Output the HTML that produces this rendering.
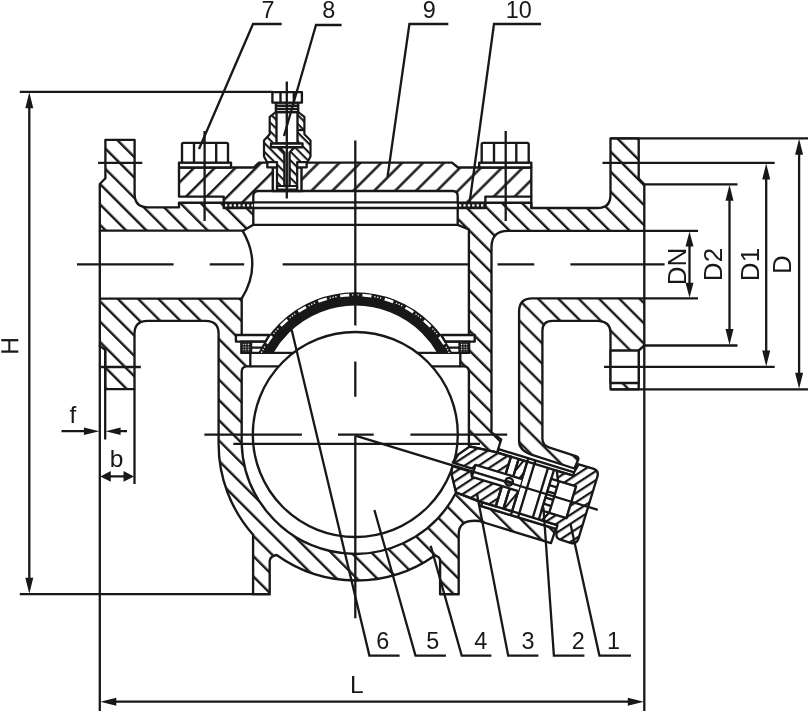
<!DOCTYPE html>
<html><head><meta charset="utf-8"><title>Valve section</title>
<style>
html,body{margin:0;padding:0;background:#fff;overflow:hidden}
svg{display:block}
text{font-family:"Liberation Sans",sans-serif;fill:#181818}
.o{fill:none;stroke:#181818;stroke-width:2.35;stroke-linejoin:round;stroke-linecap:butt}
.w{fill:#fff;stroke:#181818;stroke-width:2.35;stroke-linejoin:round}
.hb2{fill:url(#hb2);stroke:#181818;stroke-width:2.35;stroke-linejoin:round}
.hb3{fill:url(#hb3);stroke:#181818;stroke-width:2.35;stroke-linejoin:round}
.hb4{fill:url(#hb4);stroke:#181818;stroke-width:2.35;stroke-linejoin:round}
.hb{fill:url(#hb);stroke:#181818;stroke-width:2.35;stroke-linejoin:round}
.hc2{fill:url(#hc2);stroke:#181818;stroke-width:2.35;stroke-linejoin:round}
.hc{fill:url(#hc);stroke:#181818;stroke-width:2.35;stroke-linejoin:round}
.hv{fill:url(#hv);stroke:#181818;stroke-width:2.2;stroke-linejoin:round}
.hs{fill:url(#hs);stroke:#181818;stroke-width:2.2;stroke-linejoin:round}
.hn{fill:url(#hn);stroke:#181818;stroke-width:2.35;stroke-linejoin:round}
.t{fill:none;stroke:#181818;stroke-width:2.3}
.a{fill:#181818;stroke:none}
.n{font-size:23.4px}
.l{font-size:24.5px}
.d{font-size:26px}
</style></head><body>
<svg width="808" height="711" viewBox="0 0 808 711">
<defs>
<pattern id="hb" width="40" height="14.425" patternUnits="userSpaceOnUse" patternTransform="rotate(45)"><rect x="0" y="0" width="40" height="14.425" fill="#fff"/><line x1="-1" y1="1.697" x2="41" y2="1.697" stroke="#181818" stroke-width="2.45"/><line x1="-1" y1="-12.728" x2="41" y2="-12.728" stroke="#181818" stroke-width="2.45"/><line x1="-1" y1="16.122" x2="41" y2="16.122" stroke="#181818" stroke-width="2.45"/></pattern>
<pattern id="hb2" width="40" height="14.142" patternUnits="userSpaceOnUse" patternTransform="rotate(45)"><rect x="0" y="0" width="40" height="14.142" fill="#fff"/><line x1="-1" y1="0.707" x2="41" y2="0.707" stroke="#181818" stroke-width="2.45"/><line x1="-1" y1="-13.435" x2="41" y2="-13.435" stroke="#181818" stroke-width="2.45"/><line x1="-1" y1="14.849" x2="41" y2="14.849" stroke="#181818" stroke-width="2.45"/></pattern>
<pattern id="hb3" width="40" height="14.354" patternUnits="userSpaceOnUse" patternTransform="rotate(45)"><rect x="0" y="0" width="40" height="14.354" fill="#fff"/><line x1="-1" y1="13.152" x2="41" y2="13.152" stroke="#181818" stroke-width="2.45"/><line x1="-1" y1="-1.202" x2="41" y2="-1.202" stroke="#181818" stroke-width="2.45"/><line x1="-1" y1="27.506" x2="41" y2="27.506" stroke="#181818" stroke-width="2.45"/></pattern>
<pattern id="hb4" width="40" height="14.347" patternUnits="userSpaceOnUse" patternTransform="rotate(45)"><rect x="0" y="0" width="40" height="14.347" fill="#fff"/><line x1="-1" y1="2.828" x2="41" y2="2.828" stroke="#181818" stroke-width="2.45"/><line x1="-1" y1="-11.519" x2="41" y2="-11.519" stroke="#181818" stroke-width="2.45"/><line x1="-1" y1="17.176" x2="41" y2="17.176" stroke="#181818" stroke-width="2.45"/></pattern>
<pattern id="hc" width="40" height="14.779" patternUnits="userSpaceOnUse" patternTransform="rotate(-45)"><rect x="0" y="0" width="40" height="14.779" fill="#fff"/><line x1="-1" y1="0.495" x2="41" y2="0.495" stroke="#181818" stroke-width="2.45"/><line x1="-1" y1="-14.284" x2="41" y2="-14.284" stroke="#181818" stroke-width="2.45"/><line x1="-1" y1="15.274" x2="41" y2="15.274" stroke="#181818" stroke-width="2.45"/></pattern>
<pattern id="hc2" width="40" height="14.637" patternUnits="userSpaceOnUse" patternTransform="rotate(-45)"><rect x="0" y="0" width="40" height="14.637" fill="#fff"/><line x1="-1" y1="7.142" x2="41" y2="7.142" stroke="#181818" stroke-width="2.45"/><line x1="-1" y1="-7.495" x2="41" y2="-7.495" stroke="#181818" stroke-width="2.45"/><line x1="-1" y1="21.779" x2="41" y2="21.779" stroke="#181818" stroke-width="2.45"/></pattern>
<pattern id="hn" width="30" height="7.6" patternUnits="userSpaceOnUse" patternTransform="rotate(-50)"><rect x="0" y="0" width="30" height="7.6" fill="#fff"/><line x1="-1" y1="1" x2="31" y2="1" stroke="#181818" stroke-width="2.45"/></pattern>
<pattern id="hv" width="30" height="6.2" patternUnits="userSpaceOnUse" patternTransform="rotate(45)"><rect x="0" y="0" width="30" height="6.2" fill="#fff"/><line x1="-1" y1="1" x2="31" y2="1" stroke="#181818" stroke-width="2.1"/></pattern>
<pattern id="hg" width="2.6" height="2.6" patternUnits="userSpaceOnUse"><rect x="0" y="0" width="2.6" height="2.6" fill="#181818"/><rect x="0.7" y="0.7" width="1.2" height="1.2" fill="#fff"/></pattern>
<pattern id="hs" width="30" height="8" patternUnits="userSpaceOnUse" patternTransform="rotate(-67)"><rect x="0" y="0" width="30" height="8" fill="#fff"/><line x1="-1" y1="1" x2="31" y2="1" stroke="#181818" stroke-width="2.1"/></pattern>
<clipPath id="domeclip"><rect x="240" y="280" width="230" height="72.9"/></clipPath>
</defs>
<rect x="0" y="0" width="808" height="711" fill="#fff"/>

<!-- BODY-START -->
<g id="body">
<!-- upper-left body -->
<path class="hb" d="M105.4,139.8H134.6V194Q134.6,207.3 148,207.3H179V202.7H223.7V208H253.3V224.8L243.5,230.6H99.8V184L105.4,178.2Z"/>
<!-- upper-right body + inner wall -->
<path class="hb2" d="M457.7,208H485.4V202.7H531.3V208H597.5Q610.5,208 610.5,195V138.3H638.7V178.5L644.3,184.3V230.9H508Q491.5,230.9 491.5,247V432.4L501.2,439.4L497.1,452.5L469.9,446.3L468.9,446V372Q468.9,366.4 463.6,366.4H460.3V352.9H468.9V229.5L457.7,224.8Z"/>
<!-- lower-left body + bowl + legs + housing -->
<path class="hb3" d="M99.8,298.6H241.7V352.9H250.3V366.4H247Q241.7,366.4 241.7,372V443.9A113.6,113.6 0 0 0 456.1,492.5L482.2,502.7L481.2,506.1L555.8,528.9L551,543.1L478.8,521Q458.7,519 458.7,534V594.2H440.1V561Q440.1,556.5 434.5,555.7A136.7,136.7 0 0 1 276.6,555Q269.7,556.5 269.7,561V594.2H253.1V534.7A136.7,136.7 0 0 1 218.6,443.9V333.8Q218.6,320.8 205.6,320.8H147.5Q134.5,320.8 134.5,333.8V389.1H105.2V349.8L99.8,345.9Z"/>
<!-- lower-right: flange + outlet wall -->
<path class="hb4" d="M644.3,298.4V345.5L638.7,350.5V389.3H610.5V332.5Q610.5,321.8 598.5,320.8H552.6Q542.4,320.8 542.4,330.8V438.8Q542.4,445.5 549.6,447.7L575.8,456.1Q579,457.2 578.3,459.5L574.4,468.5L532.8,455.1Q519.1,451 519.1,441.3V311.6Q519.1,298.4 532.1,298.4Z"/>
<path class="w" d="M610.5,350.5H638.7V383H610.5Z"/>
<path class="o" d="M99.8,230.6V298.6M644.3,230.9V298.4"/>
</g>
<g id="cover">
<!-- cover -->
<path class="hc2" d="M179,167.5H253.8L259,162.6H287V191H258.3Q253.3,191 253.3,196V202.7H223.7V196.6H179Z"/>
<path class="hc" d="M287,162.6H452L458,167.5H531.3V196.6H485.4V202.7H457.7V196Q457.7,191 452.7,191H287Z"/>
<path class="o" d="M531.3,196.6V208"/>
<!-- gaskets -->
<rect x="223.7" y="202.7" width="29.6" height="5.3" fill="#181818" stroke="#181818" stroke-width="1.6"/><path d="M225,205.4H253" stroke="#fff" stroke-width="2.3" stroke-dasharray="2.3 2.1" fill="none"/>
<rect x="457.7" y="202.7" width="27.7" height="5.3" fill="#181818" stroke="#181818" stroke-width="1.6"/><path d="M459,205.4H485" stroke="#fff" stroke-width="2.3" stroke-dasharray="2.3 2.1" fill="none"/>
<!-- chamber lines -->
<path class="o" d="M253.3,202.3H457.7M253.3,208H457.7M253.3,224.8H457.7"/>
<!-- inlet bore end arc -->
<path class="o" d="M242.5,230.6Q262.5,264.5 241.7,298.6"/>
<!-- left bolt -->
<path class="w" d="M179,162.6H231V167.5H179Z"/>
<path class="w" d="M182,162.6V144.3Q182,142.8 183.5,142.8H226.5Q228,142.8 228,144.3V162.6Z"/>
<path class="o" d="M194,142.8V162.6M216.2,142.8V162.6"/>
<!-- right bolt -->
<path class="w" d="M479.2,162.6H531.3V167.5H479.2Z"/>
<path class="w" d="M481.7,162.6V144.3Q481.7,142.8 483.2,142.8H527.2Q528.7,142.8 528.7,144.3V162.6Z"/>
<path class="o" d="M494,142.8V162.6M516.3,142.8V162.6"/>
</g>
<g id="valve8">
<!-- threaded hole in cover -->
<rect x="272.8" y="167.3" width="28.7" height="23.7" fill="#fff" stroke="#181818" stroke-width="2.45"/>
<!-- washer -->
<rect class="w" x="267.3" y="162" width="39.4" height="5.3"/>
<!-- body -->
<path class="hv" d="M275.9,112L269.7,116.8V134.2L264,140.4V156.4L267,162H277V186H297.2V162H307.5L310.5,156.4V140.4L304.4,134.2V116.8L298.2,112Z"/>
<path class="o" d="M277,186V189.6H297.2V186"/>
<rect class="w" x="276.5" y="112" width="21" height="31.5"/>
<rect class="w" x="271" y="143.5" width="31.5" height="3.7"/>
<path class="w" d="M279.5,147.2L284.4,152.5V186H289.6V152.5L294.5,147.2Z"/>
<!-- neck and head -->
<rect class="w" x="275.9" y="102.6" width="22.3" height="9.4"/>
<path class="o" d="M275.9,105.7H298.2M275.9,108.8H298.2"/>
<rect class="w" x="272.4" y="92.1" width="29.5" height="10.5"/>
<path class="o" d="M280.5,92.1V102.6M293.8,92.1V102.6"/>
<path class="o" d="M304.4,130H297.5"/>
</g>
<g id="float">
<!-- ball -->
<circle class="o" cx="355.3" cy="434.5" r="102.5" fill="#fff"/>
<!-- ledge lines -->
<path class="o" d="M241.7,352.9H293.9M250.3,366.4H279M468.9,352.9H416.7M460.3,366.4H431.6"/>
<!-- dome screen: center (355.3,400) -->
<path d="M269.4,335.4A107.5,107.5 0 0 1 441.2,335.4L437.8,352.9A95,95 0 0 0 272.8,352.9Z" fill="#fff" stroke="none"/>
<g clip-path="url(#domeclip)">
<circle cx="355.3" cy="400" r="101.1" fill="none" stroke="#181818" stroke-width="13.4"/>
<circle cx="355.3" cy="400" r="105.1" fill="none" stroke="#fff" stroke-width="2.7" stroke-dasharray="9 13.5" stroke-dashoffset="15.45"/>
<circle cx="355.3" cy="400" r="105.1" fill="none" stroke="#fff" stroke-width="1.3" stroke-dasharray="0 11.8 1.3 1.6 1.3 1.6 1.3 3.6" stroke-dashoffset="15.45"/>
</g>
<!-- rings -->
<path class="w" d="M235.9,335H269.3L265.5,341.6H235.9Z"/>
<path class="w" d="M474.7,335H441.3L445.1,341.6H474.7Z"/>
<rect x="241.4" y="341.6" width="9.8" height="11.3" fill="url(#hg)" stroke="#181818" stroke-width="2.1"/>
<rect x="459.4" y="341.6" width="9.8" height="11.3" fill="url(#hg)" stroke="#181818" stroke-width="2.1"/>
<path class="o" d="M251.2,341.6H265.5M251.2,347.6H262M459.4,341.6H445.1M459.4,347.6H448.6"/>
</g>
<g id="nozzle" transform="translate(355.3,435.7) rotate(17)">
<!-- sleeve + white base -->
<path class="w" d="M141,-29H226V30.5H141V27L113,24.8L103,8L101,-3L104,-12L112.6,-23L141,-25.4Z"/>
<!-- seat -->
<path class="hn" d="M112.6,-23L141,-25.4H155V26.5H141L113,24.8L103,8Q100.5,-2 104,-12Z"/>
<!-- bushing with steep hatch -->
<path class="hs" d="M163,-25.4H172V26.5H163Z"/>
<!-- sleeve inner lines -->
<path class="o" d="M141,-25.4H220M141,26.5H220"/>
<!-- perpendicular lines -->
<path class="o" d="M155,-25.4V26.5M163,-25.4V26.5M172,-29V30.5M179.5,-29V30.5M193.7,-25.4V26.5M200,-25.4V26.5"/>
<!-- bore -->
<path d="M100,-2.8H123V-7.3H172V5.3H123V0.8H100Z" fill="#fff" stroke="none"/>
<path class="o" d="M100.5,-2.8H121.5L123.5,-7.3H172M100.8,0.8H121.5L123.5,5.3H172M123.5,-7.3V5.3"/>
<circle class="o" cx="160.5" cy="-1" r="3.8" fill="#fff"/>
<path class="o" d="M157.6,-1H163.4"/>
<!-- plate stack -->
<path class="w" d="M200,-16H208V17H200Z"/>
<path class="o" d="M200,-9.5H208M200,-3H208M200,3.5H208M200,10H208"/>
<!-- cap -->
<path class="hn" d="M222,-38H237Q243.5,-38 243.5,-31.5V33Q243.5,39.5 237,39.5H226.5Q222,39.5 221,35L219.5,30.5V26.5H203L208,17H226V-16H207L203,-25.4H220V-29L222,-38Z"/>
</g>
<g id="center">
<path class="t" d="M204.6,131V221M505.7,131V221M286.8,81.6V198.5"/>
<path class="t" d="M355.3,140.5V325.5M355.3,361.4V396.8M355.3,435.7V618.3"/>
<path class="t" d="M77,264.4H173.6M209.7,264.4H244.2M282.6,264.4H468M497.5,264.4H534.3M570.4,264.4H664.6"/>
<path class="t" d="M204.4,434.6H301.9M338,434.6H373.7M410.4,434.6H507.2"/>
<path class="t" d="M233.3,443.9H480"/>
<path class="t" d="M355.3,435.7L597.8,509.8"/>
<path class="t" d="M98.1,162.8H142.3M101,367H140.8"/>
</g>
<!-- BODY-END -->

<!-- DIMS-START -->
<g id="dims">
<!-- H -->
<path class="t" d="M19.8,91.8H272.5M19.8,594.2H253.1M29.3,100V586"/>
<path class="a" d="M29.3,92.3l-4,16h8zM29.3,593.7l-4,-16h8z"/>
<!-- L -->
<path class="t" d="M108,701.7H636M99.8,345V711M644.3,345V711"/>
<path class="a" d="M100.3,701.7l16,-4v8zM643.8,701.7l-16,-4v8z"/>
<!-- f, b -->
<path class="t" d="M61.5,431.2H92M112,431.2H127M105.2,350V439.5M134.5,389V484M106,476.4H128"/>
<path class="a" d="M99.4,431.2l-15.5,-3.8v7.6zM105.6,431.2l15,-3.8v7.6zM100.3,476.4l10.5,-5.4v10.8zM134,476.4l-10.5,-5.4v10.8z"/>
<!-- D dims -->
<path class="t" d="M610.5,138.3H808M610.5,389.3H808M602.5,162.9H774.7M604,366.9H774.7M644.3,184.3H737.5M644.3,345.5H737.5M644.3,230.9H698M644.3,298.3H698"/>
<path class="t" d="M799.1,146V382M766.2,170V360M729.5,192V338M689.5,238V291"/>
<path class="a" d="M799.1,138.8l-4,16h8zM799.1,388.8l-4,-16h8zM766.2,163.4l-4,16h8zM766.2,366.4l-4,-16h8zM729.5,184.8l-4,16h8zM729.5,345l-4,-16h8zM689.5,231.4l-4,15h8zM689.5,297.8l-4,-15h8z"/>
</g>
<!-- DIMS-END -->

<!-- LABELS-START -->
<g id="labels" style="opacity:0.999">
<text class="l" transform="translate(18.3,346) rotate(-90)" text-anchor="middle">H</text>
<text class="l" x="356.7" y="692.9" text-anchor="middle">L</text>
<text class="l" x="73" y="423.2" text-anchor="middle">f</text>
<text class="l" x="116.6" y="466.8" text-anchor="middle">b</text>
<text class="d" transform="translate(685.8,266.5) rotate(-90)" text-anchor="middle">DN</text>
<text class="d" transform="translate(722.3,264.5) rotate(-90)" text-anchor="middle">D2</text>
<text class="d" transform="translate(758.8,264.5) rotate(-90)" text-anchor="middle">D1</text>
<text class="d" transform="translate(791.3,264.5) rotate(-90)" text-anchor="middle">D</text>
<text class="n" x="268" y="17.5" text-anchor="middle">7</text>
<text class="n" x="328.7" y="17.5" text-anchor="middle">8</text>
<text class="n" x="429.2" y="17.5" text-anchor="middle">9</text>
<text class="n" x="518.8" y="17.5" text-anchor="middle">10</text>
<text class="n" x="382.8" y="648.7" text-anchor="middle">6</text>
<text class="n" x="432.7" y="648.7" text-anchor="middle">5</text>
<text class="n" x="480.7" y="648.7" text-anchor="middle">4</text>
<text class="n" x="528" y="648.7" text-anchor="middle">3</text>
<text class="n" x="578.3" y="648.7" text-anchor="middle">2</text>
<text class="n" x="613.5" y="648.7" text-anchor="middle">1</text>
<path class="t" d="M281.7,24H253L199,149M341.6,25H316L284,136M448.3,24H409.4L387.5,177M541,24H494L469.6,202.5"/>
<path class="t" d="M399.6,655.6H369.4L291.7,330M445.9,655.6H415.5L374.4,510M491.4,655.6H461.7L430.7,545.8M538.4,655.6H508.2L476.9,493.8M584.4,655.6H553.9L543.4,507.4M631,655.6H599.4L570.5,524"/>
</g>
<!-- LABELS-END -->
</svg>
</body></html>
